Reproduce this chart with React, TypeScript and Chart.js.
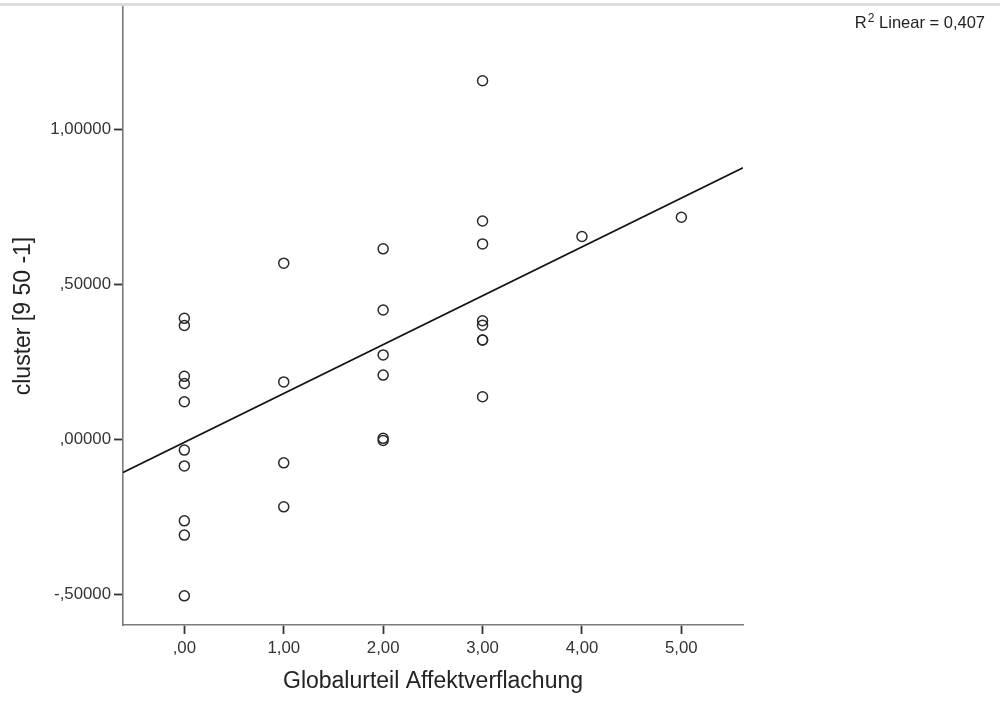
import React, { useEffect, useRef } from "react";
import { Chart, registerables } from "chart.js";

Chart.register(...registerables);

// Data
const xValues = [0, 0, 0, 0, 0, 0, 0, 0, 0, 0, 1, 1, 1, 1, 2, 2, 2, 2, 2, 2, 3, 3, 3, 3, 3, 3, 3, 3, 4, 5];
const yValues = [
  0.39, 0.367, 0.203, 0.18, 0.121, -0.035, -0.086, -0.263, -0.309, -0.505,
  0.568, 0.185, -0.076, -0.218,
  0.614, 0.417, 0.272, 0.207, 0.003, -0.004,
  1.156, 0.704, 0.63, 0.382, 0.368, 0.32, 0.32, 0.137,
  0.654, 0.716,
];

const xTickValues = [0, 1, 2, 3, 4, 5];
const xTickLabels = [",00", "1,00", "2,00", "3,00", "4,00", "5,00"];
const yTickValues = [-0.5, 0, 0.5, 1];
const yTickLabels = ["-,50000", ",00000", ",50000", "1,00000"];

const xMin = -0.617;
const xMax = 5.62;
const yMin = -0.599;
const yMax = 1.394;

const xTitle = "Globalurteil Affektverflachung";
const yTitle = "cluster [9 50 -1]";
const r2Label = "0,407";

function linearFit(xs: number[], ys: number[]) {
  const n = xs.length;
  const mx = xs.reduce((a, b) => a + b, 0) / n;
  const my = ys.reduce((a, b) => a + b, 0) / n;
  let sxy = 0;
  let sxx = 0;
  for (let i = 0; i < n; i++) {
    sxy += (xs[i] - mx) * (ys[i] - my);
    sxx += (xs[i] - mx) * (xs[i] - mx);
  }
  const slope = sxy / sxx;
  return { slope, intercept: my - slope * mx };
}

const FONT = '"Liberation Sans", Arial, Helvetica, sans-serif';

const r2Plugin = {
  id: "r2Label",
  afterDraw(chart: any) {
    const ctx = chart.ctx as CanvasRenderingContext2D;
    ctx.save();
    ctx.fillStyle = "#222";
    ctx.textBaseline = "alphabetic";
    ctx.textAlign = "left";
    const big = `16.5px ${FONT}`;
    const small = `12px ${FONT}`;
    const rest = " Linear = " + r2Label;
    ctx.font = big;
    const wR = ctx.measureText("R").width;
    const wRest = ctx.measureText(rest).width;
    ctx.font = small;
    const w2 = ctx.measureText("2").width;
    const right = chart.width - 15;
    const base = 28;
    let x = right - wRest - w2 - wR - 1;
    ctx.font = big;
    ctx.fillText("R", x, base);
    x += wR + 1;
    ctx.font = small;
    ctx.fillText("2", x, base - 6);
    x += w2;
    ctx.font = big;
    ctx.fillText(rest, x, base);
    ctx.restore();
  },
};

export default function App() {
  const canvasRef = useRef<HTMLCanvasElement | null>(null);

  useEffect(() => {
    if (!canvasRef.current) return;
    const { slope, intercept } = linearFit(xValues, yValues);
    const points = xValues.map((x, i) => ({ x, y: yValues[i] }));
    const fitLine = [
      { x: xMin, y: intercept + slope * xMin },
      { x: xMax, y: intercept + slope * xMax },
    ];

    const chart = new Chart(canvasRef.current, {
      type: "scatter",
      data: {
        datasets: [
          {
            type: "line",
            data: fitLine,
            borderColor: "#151515",
            borderWidth: 1.8,
            pointRadius: 0,
            fill: false,
            tension: 0,
          } as any,
          {
            type: "scatter",
            data: points,
            pointStyle: "circle",
            pointRadius: 5,
            pointBorderWidth: 1.5,
            borderColor: "#2a2a2a",
            backgroundColor: "rgba(0,0,0,0)",
            pointBackgroundColor: "rgba(0,0,0,0)",
          } as any,
        ],
      },
      options: {
        responsive: false,
        animation: false,
        devicePixelRatio: 1,
        layout: { padding: { left: 0, top: 7, right: 257, bottom: 0 } },
        plugins: {
          legend: { display: false },
          tooltip: { enabled: false },
          title: { display: false },
        },
        scales: {
          x: {
            type: "linear",
            min: xMin,
            max: xMax,
            afterFit: (scale: any) => {
              scale.height = 77;
              scale.paddingLeft = 0;
              scale.paddingRight = 0;
            },
            afterBuildTicks: (scale: any) => {
              scale.ticks = xTickValues.map((v) => ({ value: v }));
            },
            ticks: {
              callback: (v: any) => {
                const i = xTickValues.indexOf(Number(v));
                return i >= 0 ? xTickLabels[i] : "";
              },
              font: { family: FONT, size: 16.8 },
              color: "#333",
              padding: 4,
              maxRotation: 0,
            },
            grid: {
              drawOnChartArea: false,
              drawTicks: true,
              tickLength: 9,
              tickColor: "#333",
              tickWidth: 1.8,
            },
            border: { display: true, color: "#7a7a7a", width: 1.6 },
            title: {
              display: true,
              text: xTitle,
              font: { family: FONT, size: 23 },
              color: "#222",
              padding: { top: 0, bottom: 7 },
            },
          },
          y: {
            type: "linear",
            min: yMin,
            max: yMax,
            afterFit: (scale: any) => {
              scale.width = 123;
              scale.paddingTop = 0;
              scale.paddingBottom = 0;
            },
            afterBuildTicks: (scale: any) => {
              scale.ticks = yTickValues.map((v) => ({ value: v }));
            },
            ticks: {
              callback: (v: any) => {
                const i = yTickValues.indexOf(Number(v));
                return i >= 0 ? yTickLabels[i] : "";
              },
              font: { family: FONT, size: 16.8 },
              color: "#333",
              padding: 3,
            },
            grid: {
              drawOnChartArea: false,
              drawTicks: true,
              tickLength: 9,
              tickColor: "#333",
              tickWidth: 1.8,
            },
            border: { display: true, color: "#7a7a7a", width: 1.6 },
            title: {
              display: true,
              text: yTitle,
              font: { family: FONT, size: 23 },
              color: "#222",
              padding: { top: 10, bottom: 0 },
            },
          },
        },
      },
      plugins: [r2Plugin],
    });

    return () => {
      chart.destroy();
    };
  }, []);

  return (
    <div
      style={{
        position: "fixed",
        left: 0,
        top: 0,
        width: 1000,
        height: 702,
        background: "#fff",
      }}
    >
      <div
        style={{
          position: "absolute",
          left: 0,
          top: 3,
          width: 1000,
          height: 3,
          background: "#dcdcdc",
        }}
      />
      <canvas
        ref={canvasRef}
        width={1000}
        height={702}
        style={{ position: "absolute", left: 0, top: 0, width: 1000, height: 702 }}
      />
    </div>
  );
}
